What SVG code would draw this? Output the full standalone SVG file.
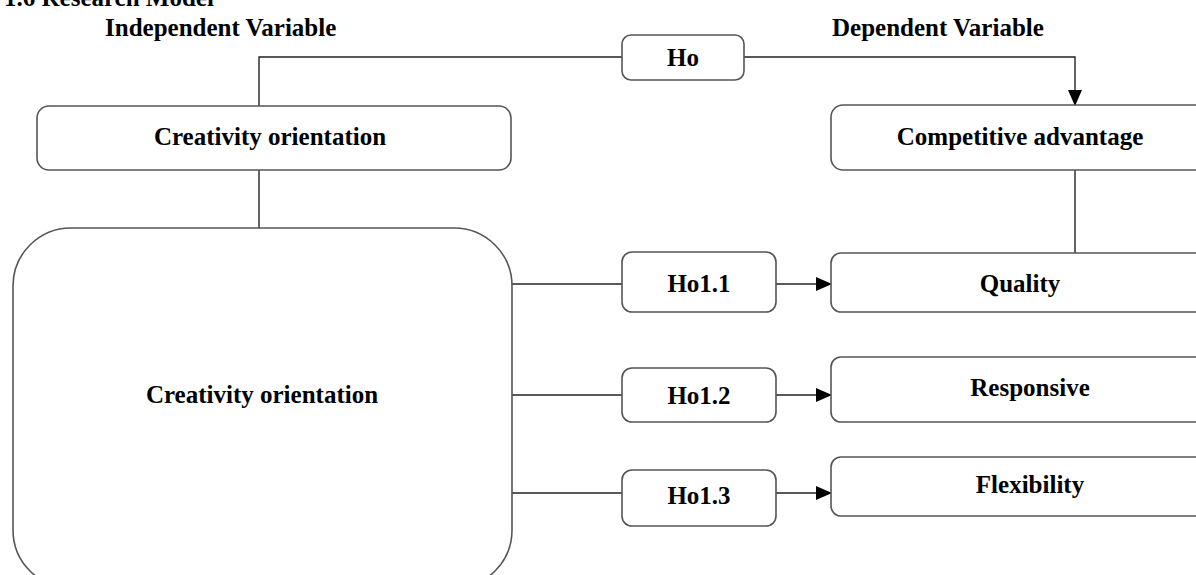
<svg xmlns="http://www.w3.org/2000/svg" width="1196" height="575" viewBox="0 0 1196 575">
<defs>
<marker id="arr" markerWidth="16" markerHeight="14" refX="15" refY="7" orient="auto" markerUnits="userSpaceOnUse">
<path d="M0,0 L16,7 L0,14 Z" fill="#000"/>
</marker>
<style>
.box{fill:#fff;stroke:#555;stroke-width:1.6}
.ln{fill:none;stroke:#222;stroke-width:1.4}
.t{font-family:"Liberation Serif","Times New Roman",serif;font-weight:bold;font-size:25px;fill:#000;text-anchor:middle}
.h{font-family:"Liberation Serif","Times New Roman",serif;font-weight:bold;font-size:25px;fill:#000}
</style>
</defs>
<rect width="1196" height="575" fill="#fff"/>
<text class="h" x="4" y="6">1.6 Research Model</text>
<text class="h" x="105" y="36">Independent Variable</text>
<text class="h" x="832" y="36">Dependent Variable</text>
<g id="connectors">
<path class="ln" d="M259,106 V57 H622"/>
<path class="ln" d="M744,57 H1075 V105" marker-end="url(#arr)"/>
<path class="ln" d="M259,170 V228"/>
<path class="ln" d="M1075,170 V253"/>
<path class="ln" d="M512,284 H622"/>
<path class="ln" d="M776,284 H831" marker-end="url(#arr)"/>
<path class="ln" d="M512,395 H622"/>
<path class="ln" d="M776,395 H831" marker-end="url(#arr)"/>
<path class="ln" d="M512,493 H622"/>
<path class="ln" d="M776,493 H831" marker-end="url(#arr)"/>
</g>
<g id="ho"><rect class="box" x="622" y="35" width="122" height="45" rx="9"/><text class="t" x="683" y="66">Ho</text></g>
<g id="creativity-top"><rect class="box" x="37" y="106" width="474" height="64" rx="12"/><text class="t" x="270" y="145">Creativity orientation</text></g>
<g id="competitive"><rect class="box" x="831" y="105" width="380" height="65" rx="12"/><text class="t" x="1020" y="145">Competitive advantage</text></g>
<g id="creativity-big"><rect class="box" x="13" y="228" width="499" height="360" rx="58"/><text class="t" x="262" y="403">Creativity orientation</text></g>
<g id="ho11"><rect class="box" x="622" y="252" width="154" height="60" rx="10"/><text class="t" x="699" y="292">Ho1.1</text></g>
<g id="quality"><rect class="box" x="831" y="253" width="380" height="59" rx="10"/><text class="t" x="1020" y="292">Quality</text></g>
<g id="ho12"><rect class="box" x="622" y="368" width="154" height="54" rx="10"/><text class="t" x="699" y="404">Ho1.2</text></g>
<g id="responsive"><rect class="box" x="831" y="357" width="380" height="65" rx="10"/><text class="t" x="1030" y="396">Responsive</text></g>
<g id="ho13"><rect class="box" x="622" y="470" width="154" height="56" rx="10"/><text class="t" x="699" y="504">Ho1.3</text></g>
<g id="flexibility"><rect class="box" x="831" y="457" width="380" height="59" rx="10"/><text class="t" x="1030" y="493">Flexibility</text></g>
</svg>
